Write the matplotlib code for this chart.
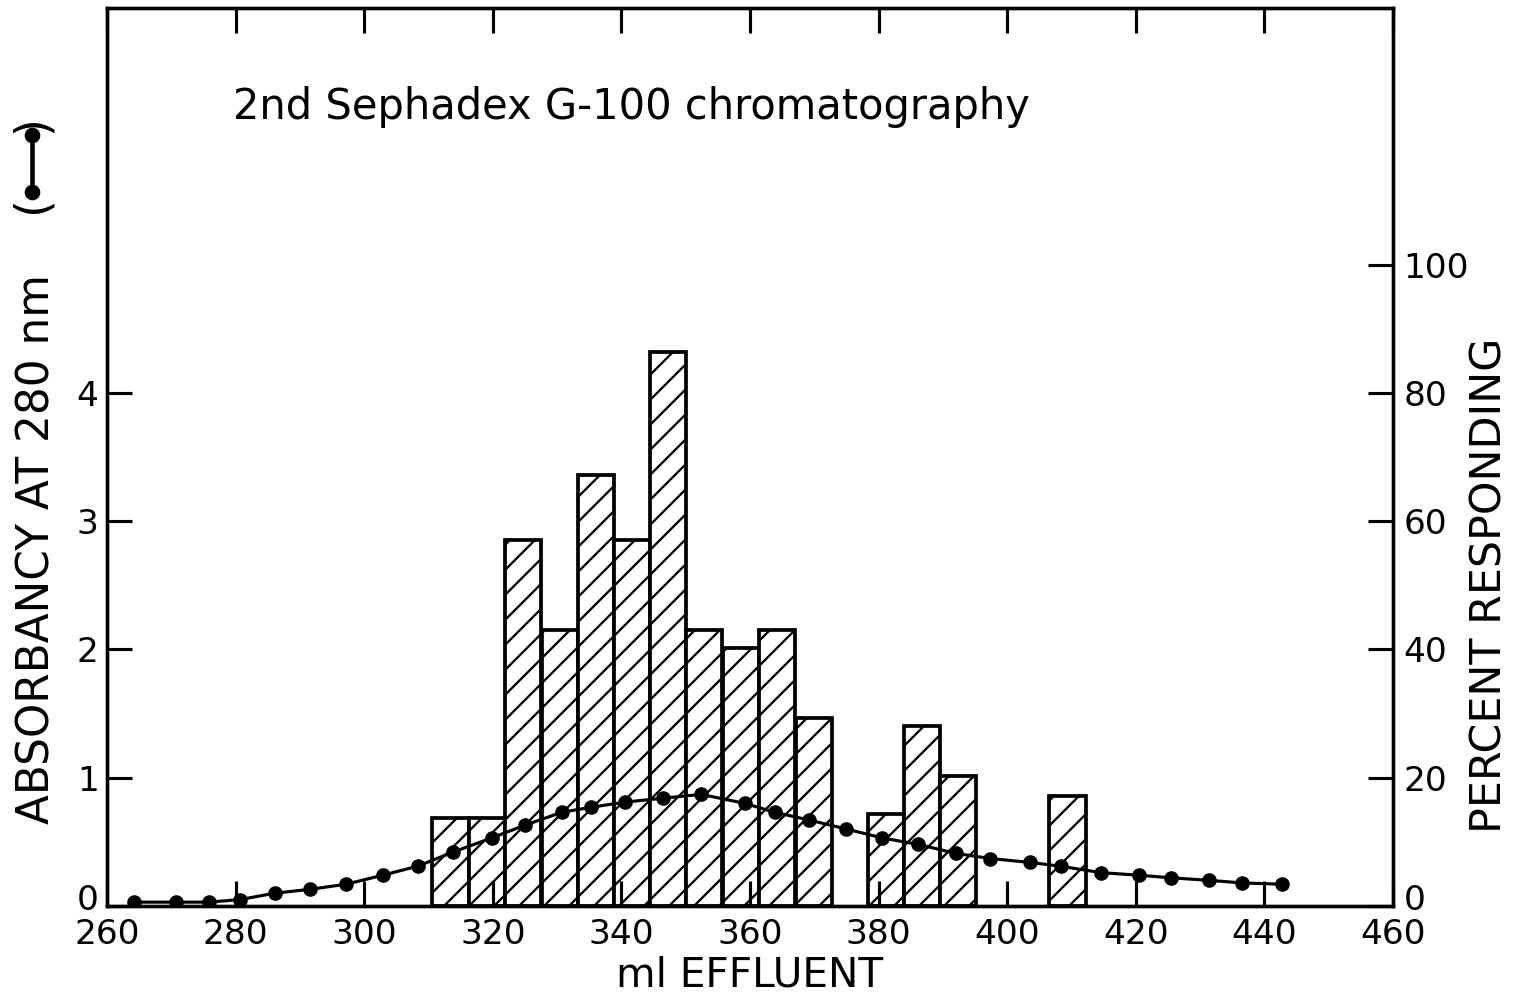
import matplotlib
matplotlib.use("Agg")
import matplotlib.pyplot as plt
from matplotlib.lines import Line2D
from matplotlib.transforms import ScaledTranslation

# absorbancy at 280 nm (line, left axis)
ml_line = [264.2, 270.7, 275.8, 280.7, 286.1, 291.6, 297.2, 302.9, 308.3, 313.8,
           319.8, 325.0, 330.7, 335.3, 340.6, 346.4, 352.4, 359.2, 363.9, 369.2,
           375.0, 380.6, 386.2, 392.0, 397.4, 403.5, 408.3, 414.6, 420.5, 425.4,
           431.4, 436.5, 442.7]
absorbancy = [0.03, 0.03, 0.03, 0.05, 0.10, 0.13, 0.17, 0.24, 0.31, 0.42,
              0.53, 0.63, 0.73, 0.77, 0.81, 0.84, 0.87, 0.80, 0.73, 0.67,
              0.60, 0.53, 0.48, 0.41, 0.37, 0.34, 0.31, 0.26, 0.24, 0.22,
              0.20, 0.18, 0.17]

# percent responding (hatched bars, right axis)
bar_ml = [313.4, 319.1, 324.7, 330.4, 336.0, 341.6, 347.3, 352.9, 358.6, 364.2,
          369.9, 381.1, 386.8, 392.4, 409.4]
percent = [13.7, 13.7, 57.1, 43.1, 67.2, 57.1, 86.3, 43.1, 40.2, 43.1,
           29.3, 14.4, 28.1, 20.2, 17.2]
bar_width = 5.645

x_ticks = list(range(260, 461, 20))
left_ticks = [0, 1, 2, 3, 4]
right_ticks = [0, 20, 40, 60, 80, 100]

plt.rcParams["font.family"] = "DejaVu Sans"
plt.rcParams["hatch.linewidth"] = 1.1

W, H, DPI = 1514, 998, 150
fig = plt.figure(figsize=(W / DPI, H / DPI), dpi=DPI)
ax = fig.add_axes([107 / W, 1 - 906 / H, 1286 / W, 898 / H])
ax2 = ax.twinx()

# bars go behind the absorbancy curve
ax2.bar(bar_ml, percent, width=bar_width, facecolor="white", edgecolor="black",
        linewidth=1.8, hatch="//")
ax.set_zorder(ax2.get_zorder() + 1)
ax.patch.set_visible(False)
ax.plot(ml_line, absorbancy, "-o", color="black", lw=1.5, ms=6)

ax.set_xlim(260, 460)
ax.set_ylim(0, 7)
ax2.set_ylim(0, 140)
ax.set_xticks(x_ticks)
ax.set_yticks(left_ticks)
ax2.set_yticks(right_ticks)

ax.tick_params(axis="x", direction="in", length=12, width=1.5, labelsize=16.5,
               top=True, pad=6)
ax.tick_params(axis="y", direction="in", length=12, width=1.5, labelsize=16.5, pad=4)
ax2.tick_params(axis="y", direction="in", length=12, width=1.5, labelsize=16.5, pad=5)
for a in (ax, ax2):
    for s in a.spines.values():
        s.set_linewidth(1.6)

# the two "0" labels sit a little above the x axis
lift = ScaledTranslation(0, 9 / DPI, fig.dpi_scale_trans)
for lbl in (ax.get_yticklabels()[0], ax2.get_yticklabels()[0]):
    lbl.set_transform(lbl.get_transform() + lift)

ax.set_xlabel("ml EFFLUENT", fontsize=19.5, labelpad=2)
ax.text(0.098, 0.89, "2nd Sephadex G-100 chromatography", transform=ax.transAxes,
        fontsize=20, va="center", ha="left")

fig.text(37 / W, 1 - 549 / H, "ABSORBANCY AT 280 nm", rotation=90,
         ha="center", va="center", fontsize=21)
fig.text(1490 / W, 1 - 585 / H, "PERCENT RESPONDING", rotation=90,
         ha="center", va="center", fontsize=20.5)

# little key for the curve: (•—•)
fig.add_artist(Line2D([32 / W, 32 / W], [1 - 135 / H, 1 - 192 / H],
                      transform=fig.transFigure, color="black", lw=2.2,
                      marker="o", ms=6.5))
fig.text(32 / W, 1 - 124 / H, ")", rotation=90, ha="center", va="center", fontsize=22)
fig.text(32 / W, 1 - 204 / H, "(", rotation=90, ha="center", va="center", fontsize=22)

fig.savefig("out.png", dpi=DPI)
